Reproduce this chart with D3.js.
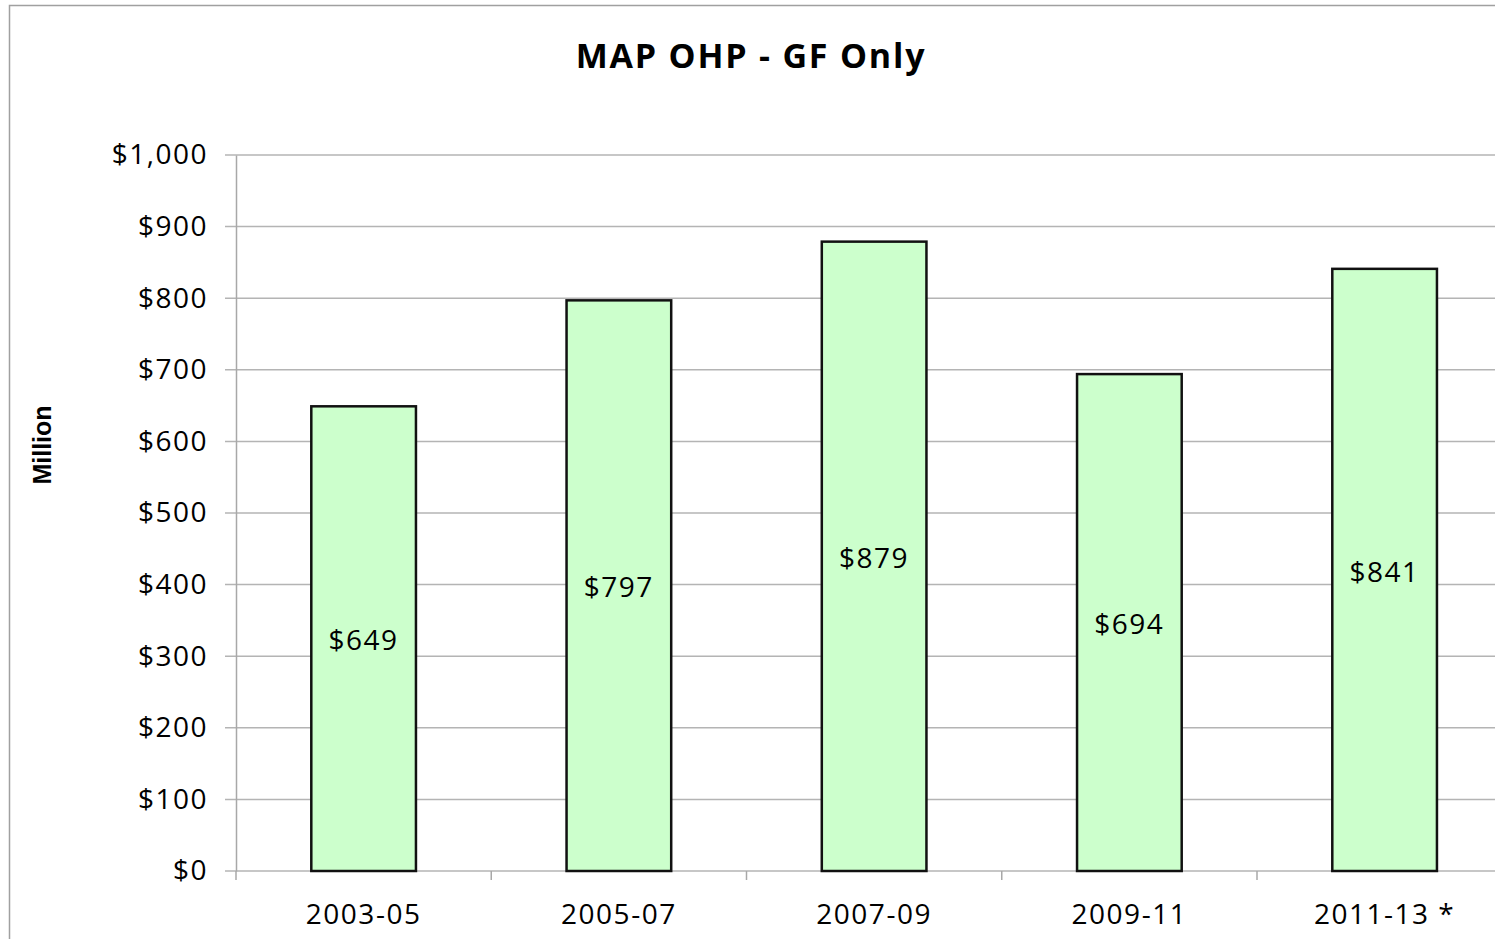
<html>
<script src="https://d3js.org/d3.v7.min.js"></script>
<body style="margin:0;background:#fff">
<script>
    var width = 1495, height = 939
    var categories = ['2003-05', '2005-07', '2007-09', '2009-11', '2011-13 *']
    var values = [649, 797, 879, 694, 841]
    var yTicks = [0, 100, 200, 300, 400, 500, 600, 700, 800, 900, 1000]

    var svg = d3.select('body').append('svg').attr('width', width).attr('height', height)
        .style('display', 'block')

    // outer chart frame
    svg.append('rect').attr('x', 9.5).attr('y', 5.5).attr('width', width + 20).attr('height', height + 20)
        .attr('fill', 'white').attr('stroke', '#a0a0a0').attr('stroke-width', 1.5)

    var plotLeft = 236, plotTop = 155, plotBottom = 871, step = 255.25
    var x = d3.scaleBand().domain(categories).range([plotLeft, plotLeft + step * categories.length])
        .paddingInner(0.59).paddingOuter(0.295)
    var y = d3.scaleLinear().domain([0, 1000]).range([plotBottom, plotTop])

    var font = '"Open Sans", sans-serif'

    // gridlines
    svg.append('g').selectAll('line').data(yTicks).enter().append('line')
        .attr('x1', plotLeft - 11).attr('x2', width)
        .attr('y1', d => y(d)).attr('y2', d => y(d))
        .attr('stroke', '#b4b4b4').attr('stroke-width', 1.5)

    // y axis
    var yAxis = svg.append('g').attr('transform', `translate(${plotLeft},0)`)
        .call(d3.axisLeft(y).tickValues(yTicks).tickSize(0).tickPadding(28)
            .tickFormat(d => '$' + d3.format(',')(d)))
    yAxis.select('.domain').attr('stroke', '#a8a8a8').attr('stroke-width', 1.5)
    yAxis.selectAll('text').style('font-family', font).style('font-size', '28px')
        .style('letter-spacing', '1.5px').attr('fill', '#000')

    // x axis
    var xAxis = svg.append('g').attr('transform', `translate(0,${plotBottom})`)
        .call(d3.axisBottom(x).tickSize(0).tickPadding(33))
    xAxis.select('.domain').remove()
    xAxis.selectAll('text').style('font-family', font).style('font-size', '28px')
        .style('letter-spacing', '1.5px').attr('fill', '#000')
    svg.append('g').selectAll('line').data(d3.range(categories.length + 1)).enter().append('line')
        .attr('x1', d => plotLeft + d * step).attr('x2', d => plotLeft + d * step)
        .attr('y1', plotBottom).attr('y2', plotBottom + 9)
        .attr('stroke', '#a8a8a8').attr('stroke-width', 1.5)

    // bars
    svg.append('g').selectAll('rect').data(values).enter().append('rect')
        .attr('x', (d, i) => x(categories[i]))
        .attr('y', d => y(d))
        .attr('width', x.bandwidth())
        .attr('height', d => plotBottom - y(d))
        .attr('fill', '#ccffcc').attr('stroke', '#111').attr('stroke-width', 2.5)

    // value labels
    svg.append('g').selectAll('text').data(values).enter().append('text')
        .attr('x', (d, i) => x(categories[i]) + x.bandwidth() / 2)
        .attr('y', d => (y(d) + plotBottom) / 2 + 2)
        .attr('dy', '0.35em').attr('text-anchor', 'middle')
        .style('font-family', font).style('font-size', '28px').style('letter-spacing', '1.5px')
        .text(d => '$' + d)

    svg.append('text').attr('x', 751).attr('y', 68).attr('text-anchor', 'middle')
        .style('font-family', font).style('font-size', '34px').style('font-weight', 'bold')
        .style('letter-spacing', '1.8px')
        .text('MAP OHP - GF Only')

    svg.append('text').attr('transform', 'translate(51,445) rotate(-90)').attr('text-anchor', 'middle')
        .style('font-family', '"Liberation Sans", Arial, sans-serif').style('font-size', '25px').style('font-weight', 'bold')
        .text('Million')
</script>
</body>
</html>
